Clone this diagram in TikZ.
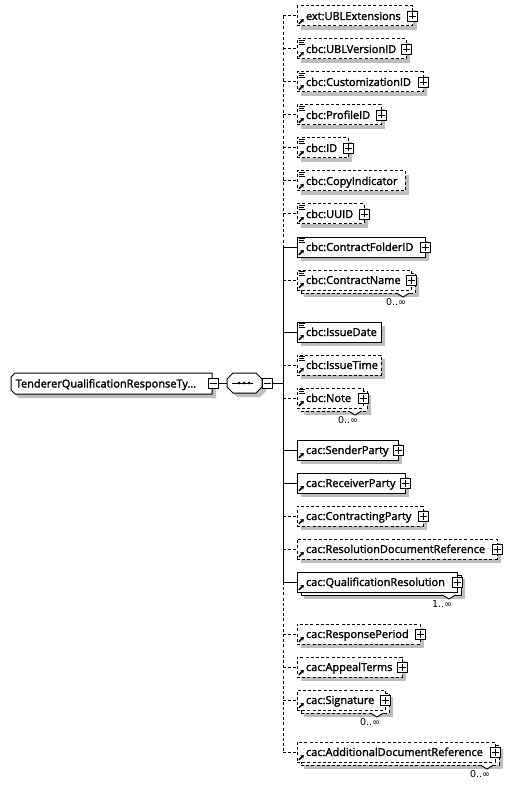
\documentclass[tikz,border=0pt]{standalone}
\usepackage{fontspec}
\usetikzlibrary{calc,arrows.meta}
\newfontfamily\labfont[RawFeature={embolden=2}]{Open Sans}
\newfontfamily\multfont{DejaVu Sans}
\definecolor{shadowgray}{HTML}{BEBEBE}
\tikzset{
  conn/.style={line width=1pt,black},
  dashconn/.style={conn,dash pattern=on 3pt off 2.2pt},
  elembox/.style={rectangle,draw=black,fill=white,line width=1pt,anchor=west,inner xsep=9pt,inner ysep=4pt,text height=10pt,text depth=2pt,outer sep=0pt,font=\labfont\fontsize{11}{12}\selectfont},
  dashbox/.style={elembox,dash pattern=on 3pt off 2.2pt},
  solidbox/.style={elembox},
  signbox/.style={rectangle,draw=black,fill=white,line width=0.9pt,minimum size=10pt,inner sep=0pt,outer sep=0pt},
  plusbox/.style={signbox,path picture={\draw[line width=0.9pt] ([xshift=1.5pt]path picture bounding box.west) -- ([xshift=-1.5pt]path picture bounding box.east) ([yshift=-1.5pt]path picture bounding box.north) -- ([yshift=1.5pt]path picture bounding box.south);}},
  minusbox/.style={signbox,path picture={\draw[line width=0.9pt] ([xshift=1.5pt]path picture bounding box.west) -- ([xshift=-1.5pt]path picture bounding box.east);}},
  mult/.style={font=\multfont\fontsize{9.5}{11}\selectfont,inner sep=0pt},
  outline/.style={draw=black,fill=white,line width=1pt},
  anchorbox/.style={rectangle,inner sep=0pt,outer sep=0pt},
}
\begin{document}
\begin{tikzpicture}[x=1pt,y=-1pt]
\useasboundingbox[fill=white] (0,0) rectangle (513,786);
% root
\fill[shadowgray] (19,378) -- (216,378) -- (216,398) -- (19,398) -- (15,394) -- (15,382) -- cycle;
\draw[outline] (15,373) -- (212,373) -- (212,394) -- (15,394) -- (11,390) -- (11,377) -- cycle;
\node[anchorbox,minimum width=201pt,minimum height=21pt] (root) at (111.5,383.5) {};
\node[anchor=base west,inner sep=0pt,font=\labfont\fontsize{11}{12}\selectfont] (roottext) at (15.5,387.5) {TendererQualificationResponseTy...};
\node[minusbox] (rootm) at (213,383) {};
% sequence
\fill[shadowgray] (237,378) -- (260,378) -- (266,384) -- (266,391) -- (260,397) -- (237,397) -- (231,391) -- (231,384) -- cycle;
\draw[outline] (233,373) -- (256,373) -- (262,379) -- (262,387) -- (256,393) -- (233,393) -- (227,387) -- (227,379) -- cycle;
\node[anchorbox,minimum width=35pt,minimum height=20pt] (seq) at (244.5,383) {};
\node[minusbox] (seqm) at (267,383) {};
\coordinate (seqa) at (232,383);
\coordinate (seqb) at (252.5,383);
\draw[conn] (seqa) -- (seqb);
\foreach \d in {239,244,249} \fill (\d,383) circle (1.5pt);
\coordinate (hub) at (283,383);
\draw[conn] (rootm.east) -- (seq.west);
\draw[conn] (seqm.east) -- (hub);
% elements: name / row / right edge / text / border / list icon / plus / multiplicity
\foreach \n/\y/\r/\t/\s/\ic/\pl/\m in {
 n1/16/412.5/ext:UBLExtensions/dashbox/0/1/-,
 n2/49/406/cbc:UBLVersionID/dashbox/1/1/-,
 n3/82/423/cbc:CustomizationID/dashbox/1/1/-,
 n4/115/381/cbc:ProfileID/dashbox/1/1/-,
 n5/148/348/cbc:ID/dashbox/1/1/-,
 n6/181/405/cbc:CopyIndicator/dashbox/1/0/-,
 n7/214/364/cbc:UUID/dashbox/1/1/-,
 n8/247/425/cbc:ContractFolderID/solidbox/1/1/-,
 n9/280/411/cbc:ContractName/dashbox/1/1/0..∞,
 n10/332/381/cbc:IssueDate/solidbox/1/0/-,
 n11/365/381/cbc:IssueTime/dashbox/1/0/-,
 n12/398/363/cbc:Note/dashbox/1/1/0..∞,
 n13/450/398/cac:SenderParty/solidbox/0/1/-,
 n14/483/405/cac:ReceiverParty/solidbox/0/1/-,
 n15/516/423/cac:ContractingParty/dashbox/0/1/-,
 n16/549/497/cac:ResolutionDocumentReference/dashbox/0/1/-,
 n17/582/457/cac:QualificationResolution/solidbox/0/1/1..∞,
 n18/634/420/cac:ResponsePeriod/dashbox/0/1/-,
 n19/667/402/cac:AppealTerms/dashbox/0/1/-,
 n20/700/385/cac:Signature/dashbox/0/1/0..∞,
 n21/752/495/cac:AdditionalDocumentReference/dashbox/0/1/0..∞%
}{
  \pgfmathsetmacro\w{\r-297}
  \pgfmathsetmacro\tw{\r-297-18}
  \if\m-\relax
    \fill[shadowgray] (301,\y-6) rectangle (\r+4,\y+14);
  \else
    \fill[shadowgray] (304,\y-3) rectangle (\r+8,\y+17);
    \node[\s,minimum width=\w pt,minimum height=20pt,inner sep=0pt] (\n back) at (301,\y+3) {};
    \coordinate (\n va) at (\r-14.5,\y+13);
    \coordinate (\n vb) at (\r-8,\y+17);
    \coordinate (\n vc) at (\r-1.5,\y+13);
    \fill[white] (\n va) -- (\n vb) -- (\n vc) -- cycle;
    \draw[line width=0.9pt] (\n va) -- (\n vb) -- (\n vc);
    \node[mult] (\n m) at (\r-15,\y+22.5) {\m};
  \fi
  \node[\s] (\n) at (297,\y) {\makebox[\tw pt][l]{\t}};
  \draw[line width=1.6pt,-{Stealth[length=3.2pt,width=4.6pt]}] (299,\y+7.8) -- (303.8,\y+3);
  \ifnum\ic=1
    \draw[line width=0.9pt] (298.5,\y-9) -- (304.5,\y-9) (298.5,\y-7) -- (303.5,\y-7) (298.5,\y-5) -- (304.5,\y-5);
  \fi
  \ifnum\pl=1
    \node[plusbox] (\n p) at (\r,\y) {};
  \fi
}
% connectors
\foreach \n in {n1,n2,n3,n4,n5,n6,n7,n9,n11,n12,n15,n16,n18,n19,n20,n21}
  \draw[dashconn] (hub |- \n.west) -- (\n.west);
\foreach \n in {n8,n10,n13,n14,n17}
  \draw[conn] (hub |- \n.west) -- (\n.west);
\draw[dashconn] (hub |- n1.west) -- (hub |- n8.west);
\draw[conn] (hub |- n8.west) -- (hub |- n17.west);
\draw[dashconn] (hub |- n17.west) -- (hub |- n21.west);
\end{tikzpicture}
\end{document}
